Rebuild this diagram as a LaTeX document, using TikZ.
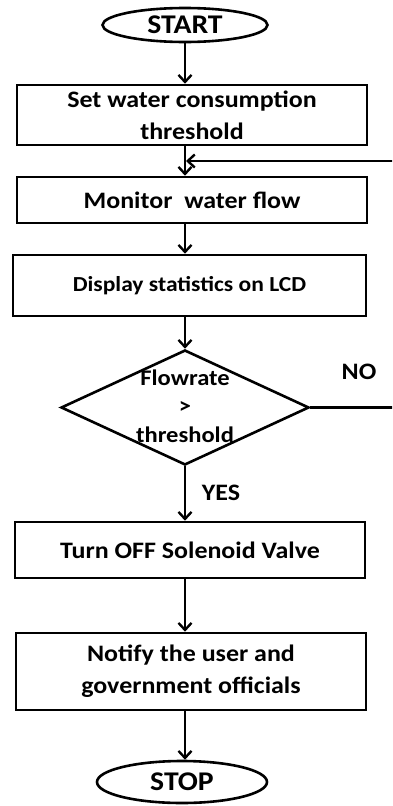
\documentclass[tikz,border=0pt]{standalone}
\usepackage{fontspec}
\setmainfont{Carlito}[FakeStretch=1.1]
\usetikzlibrary{arrows.meta,shapes.geometric}
\begin{document}
\begin{tikzpicture}[x=1pt,y=-1pt,
  line width=2.6pt,
  box/.style={draw,rectangle,inner sep=0pt,font=\bfseries\fontsize{23.6}{32}\selectfont,align=center},
  term/.style={draw,ellipse,inner sep=0pt,text depth=0pt,font=\bfseries\fontsize{27}{28}\selectfont},
  lbl/.style={inner sep=0pt,font=\bfseries\fontsize{23.6}{26}\selectfont},
  arr/.style={-{Straight Barb[length=7pt,width=13pt,line width=2.4pt]}}]
\useasboundingbox (0,0) rectangle (392,806);
\clip (0,0) rectangle (392,806);
\node[term,minimum width=165,minimum height=34] (start) at (185,25) {START};
\node[box,minimum width=350,minimum height=60] (b1) at (192,115) {Set water consumption\\threshold};
\node[box,minimum width=350,minimum height=46] (b2) at (192,200) {Monitor\ \ water flow};
\node[box,minimum width=353,minimum height=61,font=\bfseries\fontsize{21.4}{24}\selectfont] (b3) at (189.5,285.5) {Display statistics on LCD};
\node[draw,diamond,inner sep=0pt,minimum width=248,minimum height=115] (d) at (185,407.5) {};
\node[lbl,align=center,font=\bfseries\fontsize{22.3}{28.5}\selectfont] (dt) at (185,406) {Flowrate\\>\\threshold};
\node[box,minimum width=350,minimum height=56] (b4) at (190,550) {Turn OFF Solenoid Valve};
\node[box,minimum width=350,minimum height=77] (b5) at (191,671.5) {Notify the user and\\government officials};
\node[term,minimum width=170,minimum height=42] (stop) at (182,782) {STOP};
\node[lbl] (no) at (359,372) {NO};
\node[lbl] (yes) at (221,493) {YES};
\coordinate (c1) at (396,407.5);
\coordinate (c2) at (396,161);
\draw[arr] (start.south) -- (start.south |- b1.north);
\draw[arr] (start.south |- b1.south) -- (start.south |- b2.north);
\draw[arr] (start.south |- b2.south) -- (start.south |- b3.north);
\draw[arr] (start.south |- b3.south) -- (d.north);
\draw[arr] (d.south) -- (d.south |- b4.north);
\draw[arr] (d.south |- b4.south) -- (d.south |- b5.north);
\draw[arr] (d.south |- b5.south) -- (d.south |- stop.north);
\draw[arr,shorten >=1pt] (d.east) -- (c1) -- (c2) -- (c2 -| start.south);
\end{tikzpicture}
\end{document}
